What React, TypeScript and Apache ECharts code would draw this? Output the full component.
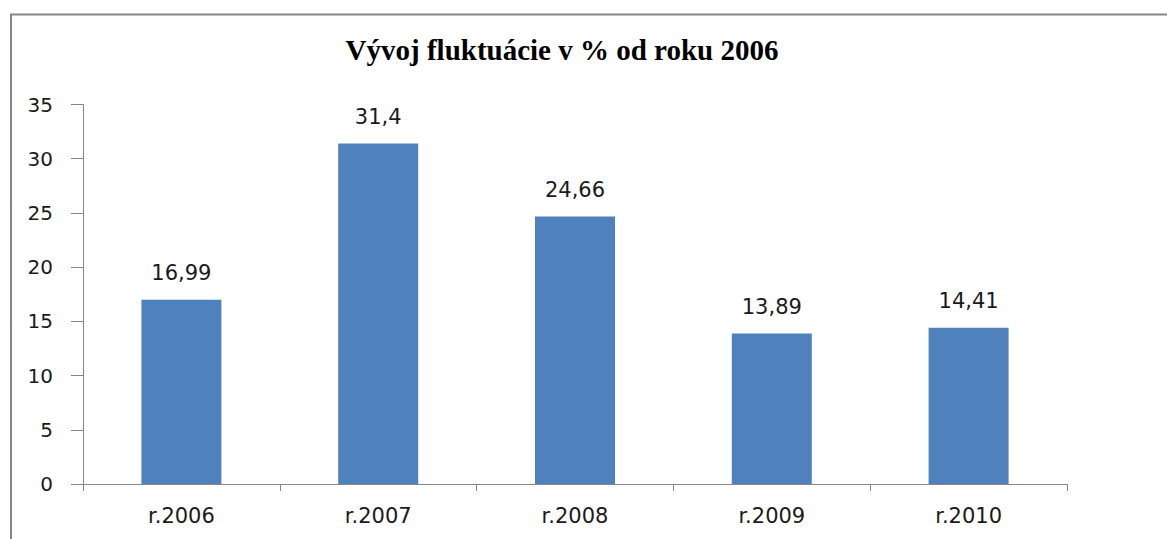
import React, { useEffect, useRef } from "react";
import * as echarts from "echarts";

const TITLE = "Vývoj fluktuácie v % od roku 2006";
const categories = ["r.2006", "r.2007", "r.2008", "r.2009", "r.2010"];
const values = [16.99, 31.4, 24.66, 13.89, 14.41];
const yMin = 0;
const yMax = 35;
const yInterval = 5;

export default function App() {
  const ref = useRef<HTMLDivElement>(null);
  useEffect(() => {
    if (!ref.current) return;
    const chart = echarts.init(ref.current, null, { renderer: "svg" });
    chart.setOption({
      animation: false,
      backgroundColor: "#ffffff",
      title: {
        text: TITLE,
        left: 557,
        top: 30,
        textAlign: "center",
        textStyle: {
          fontFamily: "Liberation Serif",
          fontWeight: "bold",
          fontSize: 29,
          color: "#000000",
        },
      },
      graphic: [
        {
          type: "polyline",
          shape: { points: [[11, 539], [11, 14.5], [1167, 14.5]] },
          style: { stroke: "#858585", lineWidth: 2, fill: "none" },
          silent: true,
        },
      ],
      grid: { left: 83, right: 100, top: 104.5, bottom: 55, containLabel: false },
      xAxis: {
        type: "category",
        data: categories,
        axisLine: { show: true, lineStyle: { color: "#868686", width: 1 } },
        axisTick: { show: true, length: 7, lineStyle: { color: "#868686" } },
        axisLabel: {
          margin: 21,
          fontFamily: "DejaVu Sans",
          fontSize: 21,
          color: "#1a1a1a",
        },
        splitLine: { show: false },
      },
      yAxis: {
        type: "value",
        min: yMin,
        max: yMax,
        interval: yInterval,
        axisLine: { show: true, lineStyle: { color: "#868686", width: 1 } },
        axisTick: { show: true, length: 12, lineStyle: { color: "#868686" } },
        axisLabel: {
          margin: 30,
          fontFamily: "DejaVu Sans",
          fontSize: 20,
          color: "#1a1a1a",
        },
        splitLine: { show: false },
      },
      series: [
        {
          type: "bar",
          data: values,
          barWidth: 80,
          itemStyle: { color: "#4f81bd" },
          label: {
            show: true,
            position: "top",
            distance: 16,
            fontFamily: "DejaVu Sans",
            fontSize: 21,
            color: "#1a1a1a",
            formatter: (p: any) => String(p.value).replace(".", ","),
          },
        },
      ],
    });
    return () => chart.dispose();
  }, []);
  return (
    <div
      ref={ref}
      style={{ position: "fixed", left: 0, top: 0, width: 1167, height: 539 }}
    />
  );
}
